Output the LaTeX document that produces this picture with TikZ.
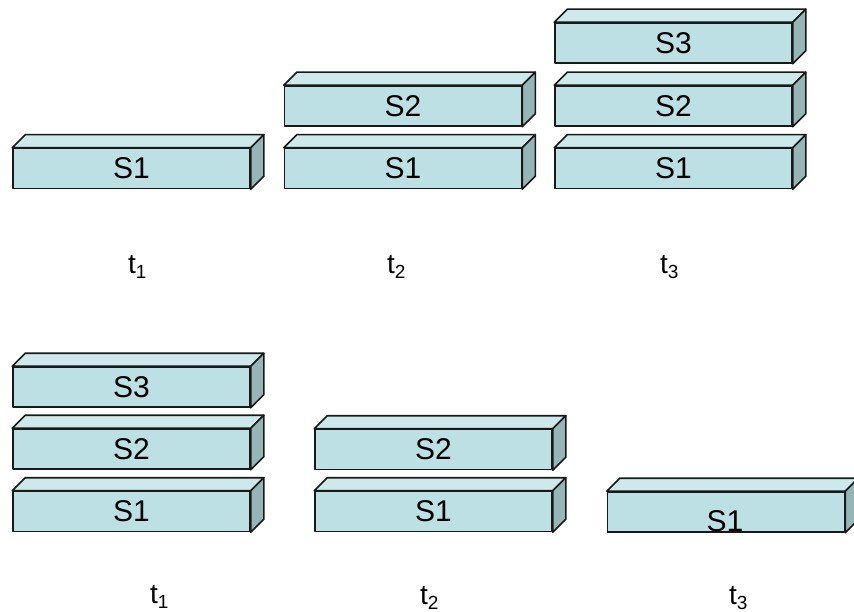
\documentclass[tikz,border=0pt]{standalone}
\usepackage{fontspec}
\setmainfont{Liberation Sans}
\definecolor{frontc}{RGB}{188,224,227}
\definecolor{topc}{RGB}{206,233,236}
\definecolor{sidec}{RGB}{150,181,183}
\definecolor{edgec}{RGB}{25,25,25}
\tikzset{
  slab/.style={draw=edgec, line width=1.6pt, fill=frontc, minimum width=237pt, minimum height=40pt, inner sep=0pt, font=\fontsize{30}{30}\selectfont, line join=round},
  face/.style={draw=edgec, line width=1.6pt, line join=round},
  lbl/.style={inner sep=0pt, font=\fontsize{30}{30}\selectfont},
  tlbl/.style={inner sep=0pt, anchor=base west, font=\fontsize{28}{28}\selectfont}
}
\newcommand{\slabdepth}[1]{%
  \draw[face, fill=topc] (#1.north west) -- ++(13,-13) -- ([shift={(13,-13)}]#1.north east) -- (#1.north east) -- cycle;
  \draw[face, fill=sidec] (#1.north east) -- ++(13,-13) -- ([shift={(13,-13)}]#1.south east) -- (#1.south east) -- cycle;
}
\newcommand{\sub}[1]{\raisebox{-5pt}{\fontsize{19}{19}\selectfont #1}}
\begin{document}
\begin{tikzpicture}[x=1pt,y=-1pt]
\useasboundingbox (0,0) rectangle (854,612);
\clip (0,0) rectangle (854,612);
% top row
\node[slab] (a1) at (131.5,168.5) {S1}; \slabdepth{a1}
\node[slab] (b1) at (403,168.5) {S1}; \slabdepth{b1}
\node[slab] (b2) at (403,106) {S2}; \slabdepth{b2}
\node[slab] (c1) at (673.5,168.5) {S1}; \slabdepth{c1}
\node[slab] (c2) at (673.5,106) {S2}; \slabdepth{c2}
\node[slab] (c3) at (673.5,43) {S3}; \slabdepth{c3}
\node[tlbl] (ta1) at (128,274) {t\sub{1}};
\node[tlbl] (ta2) at (387,274) {t\sub{2}};
\node[tlbl] (ta3) at (660,274) {t\sub{3}};
% bottom row
\node[slab] (d1) at (131.5,511.5) {S1}; \slabdepth{d1}
\node[slab] (d2) at (131.5,449) {S2}; \slabdepth{d2}
\node[slab] (d3) at (131.5,387) {S3}; \slabdepth{d3}
\node[slab] (e1) at (433.5,511.5) {S1}; \slabdepth{e1}
\node[slab] (e2) at (433.5,449.5) {S2}; \slabdepth{e2}
\node[slab] (f1) at (726,512) {}; \slabdepth{f1}
\node[lbl] (f1t) at (725,521) {S1};
\node[tlbl] (tb1) at (150,603) {t\sub{1}};
\node[tlbl] (tb2) at (420,604) {t\sub{2}};
\node[tlbl] (tb3) at (729,604) {t\sub{3}};
\end{tikzpicture}
\end{document}
